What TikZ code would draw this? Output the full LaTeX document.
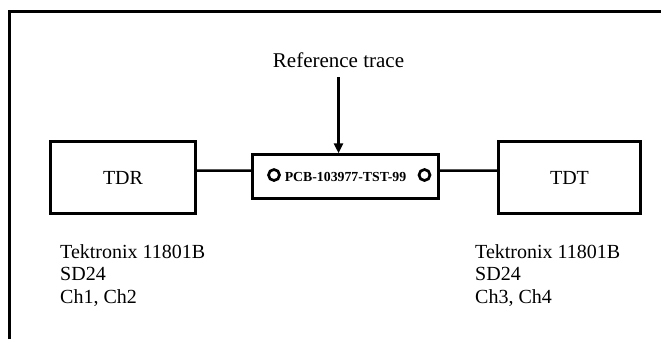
\documentclass[tikz,border=0pt]{standalone}
\usepackage{fontspec}
\setmainfont{Liberation Serif}
\usetikzlibrary{positioning,arrows.meta}

\begin{document}
\begin{tikzpicture}[x=1bp,y=-1bp,font=\fontsize{20bp}{22.7bp}\selectfont,
  instr/.style={draw,line width=2.5bp,minimum width=145bp,minimum height=72bp,inner sep=0pt},
  dut/.style={draw,line width=2.5bp,minimum width=186bp,minimum height=44bp,inner sep=0pt,
              font=\fontsize{13.8bp}{16bp}\selectfont\bfseries},
  port/.style={circle,draw,line width=2.7bp,minimum size=11bp,inner sep=0pt},
  note/.style={align=left,inner sep=0pt,anchor=north west},
  wire/.style={line width=2.5bp},
  ar/.style={-{Triangle[length=10bp,width=9bp]},line width=2.5bp}]
\useasboundingbox (0,0) rectangle (661,339);
\draw[line width=3bp] (9,339) |- (661,11);
\node[instr] (tdr) at (123,177.5) {TDR};
\node[dut] (pcb) at (345.5,176.5) {PCB-103977-TST-99};
\node[instr,minimum width=142bp] (tdt) at (569.5,177.5) {TDT};
\node[port] (pl) at (274,175) {};
\node[port] (pr) at (424.5,175) {};
\node[inner ysep=9bp,anchor=south,font=\fontsize{21bp}{24bp}\selectfont] (ref) at (338.5,77) {Reference trace};
\draw[ar] (ref.south) -- (ref.south |- pcb.north);
\draw[wire] ([yshift=7bp]tdr.east) -- ([yshift=6bp]pcb.west);
\draw[wire] ([yshift=6bp]pcb.east) -- ([yshift=7bp]tdt.west);
\node[note] (tdrinfo) at (60,244) {Tektronix 11801B\\SD24\\Ch1, Ch2};
\node[note] (tdtinfo) at (475,244) {Tektronix 11801B\\SD24\\Ch3, Ch4};
\end{tikzpicture}
\end{document}
